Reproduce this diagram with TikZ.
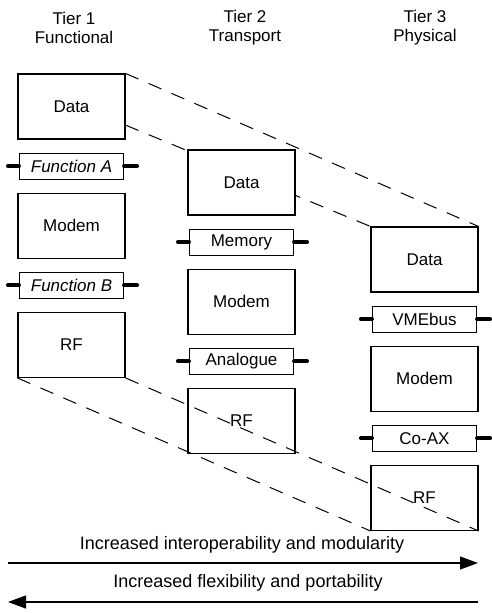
\documentclass[tikz,border=0pt]{standalone}
\usepackage{fontspec}
\setmainfont{Liberation Sans}
\usepackage{tikz}
\usetikzlibrary{positioning,arrows.meta,backgrounds}

\tikzset{
  block/.style={draw, line width=1.1pt, fill=white, minimum width=107pt, minimum height=65pt,
    inner sep=0pt, font=\fontsize{17}{19}\selectfont},
  port/.style={draw, line width=1.1pt, fill=white, minimum width=104pt, minimum height=26pt,
    inner sep=0pt, font=\fontsize{17}{19}\selectfont},
  stub/.style={line width=4pt, line cap=round},
  title/.style={align=center, font=\fontsize{17}{19}\selectfont},
  proj/.style={line width=1pt, dash pattern=on 14pt off 11pt},
  flow/.style={line width=1.2pt, -{Triangle[length=18pt,width=13pt]}},
  caption/.style={font=\fontsize{18}{20}\selectfont}
}

\begin{document}
\begin{tikzpicture}[x=1pt,y=-1pt,node distance=13pt]
  \useasboundingbox (0,0) rectangle (491,613);

  % column headings
  \node (tier1) [title] at (74,28) {Tier 1\\Functional};
  \node (tier2) [title] at (245,28) {Tier 2\\Transport};
  \node (tier3) [title] at (425,28) {Tier 3\\Physical};

  % tier 1
  \node (data1) [block] at (71.5,106.5) {Data};
  \node (fna) [port, below=of data1] {\itshape Function A};
  \node (modem1) [block, below=of fna] {Modem};
  \node (fnb) [port, below=of modem1] {\itshape Function B};
  \node (rf1) [block, below=of fnb] {RF};

  % tier 2
  \node (data2) [block] at (241.5,182.5) {Data};
  \node (memory) [port, below=of data2] {Memory};
  \node (modem2) [block, below=of memory] {Modem};
  \node (analogue) [port, below=of modem2] {Analogue};
  \node (rf2) [block, below=of analogue] {RF};

  % tier 3
  \node (data3) [block] at (424.5,259.5) {Data};
  \node (vmebus) [port, below=of data3] {VMEbus};
  \node (modem3) [block, below=of vmebus] {Modem};
  \node (coax) [port, below=of modem3] {Co-AX};
  \node (rf3) [block, below=of coax] {RF};

  % connector stubs
  \draw[stub] (fna.west) -- ++(-11,0);  \draw[stub] (fna.east) -- ++(13,0);
  \draw[stub] (fnb.west) -- ++(-11,0);  \draw[stub] (fnb.east) -- ++(13,0);
  \draw[stub] (memory.west) -- ++(-11,0);  \draw[stub] (memory.east) -- ++(13,0);
  \draw[stub] (analogue.west) -- ++(-11,0);  \draw[stub] (analogue.east) -- ++(13,0);
  \draw[stub] (vmebus.west) -- ++(-11,0);  \draw[stub] (vmebus.east) -- ++(13,0);
  \draw[stub] (coax.west) -- ++(-11,0);  \draw[stub] (coax.east) -- ++(13,0);

  % projection lines
  \begin{pgfonlayer}{background}
    \draw[proj] (data1.north east) -- (data3.north east);
    \draw[proj] (data1.-19) -- (data3.north west);
  \end{pgfonlayer}
  \draw[proj] (rf1.south east) -- (rf3.south east);
  \draw[proj] (rf1.south west) -- (rf3.south west);

  % trade-off arrows
  \coordinate (interopL) at (8,563);
  \coordinate (interopR) at (478,563);
  \coordinate (flexL) at (8,602);
  \coordinate (flexR) at (478,602);
  \node (interop) [caption] at (242,545) {Increased interoperability and modularity};
  \node (flex) [caption] at (248,583) {Increased flexibility and portability};
  \draw[flow] (interopL) -- (interopR);
  \draw[flow] (flexR) -- (flexL);
\end{tikzpicture}
\end{document}
